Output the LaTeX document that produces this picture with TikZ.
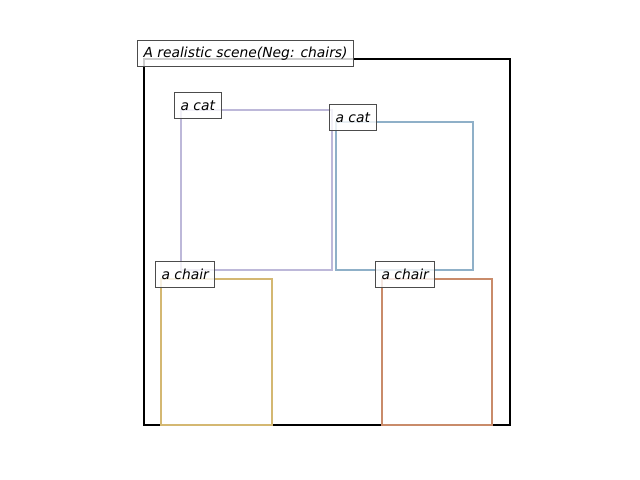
\documentclass[tikz,border=0pt]{standalone}
\usepackage{fontspec}
\newfontfamily\lblfont{DejaVu Sans}
\definecolor{catpurple}{HTML}{BDB8D9}
\definecolor{catblue}{HTML}{8FB0C8}
\definecolor{chairgold}{HTML}{D4B872}
\definecolor{chairbrown}{HTML}{C98B6A}
\usetikzlibrary{positioning}

\begin{document}
\begin{tikzpicture}[x=0.01in, y=-0.01in,
      region/.style={line width=1.9pt},
      tag/.style={draw=black!70, fill=white, fill opacity=0.8, text opacity=1,
                  line width=0.7pt, anchor=west, inner xsep=4.4pt,
                  minimum height=27*0.72pt, font=\lblfont\itshape\fontsize{10}{12}\selectfont}
    ]
      \useasboundingbox (0,0) rectangle (640,480);

      % scene frame
      \draw[region, black] (144,59) rectangle (510,425);

      % detected boxes
      \draw[region, catpurple] (181,110) rectangle (332,270);
      \draw[region, catblue] (336,122) rectangle (473,270);
      \draw[region, chairgold] (161,279) rectangle (272,425);
      \draw[region, chairbrown] (382,279) rectangle (492,425);

      % labels
      \node[tag] (scene) at (137,53.5) {A realistic scene(Neg: chairs)};
      \node[tag] (cat1) at (174,105.5) {a cat};
      \node[tag] (cat2) at (329,117.5) {a cat};
      \node[tag] (chair1) at (155,274.5) {a chair};
      \node[tag] (chair2) at (375,274.5) {a chair};
    \end{tikzpicture}
\end{document}
